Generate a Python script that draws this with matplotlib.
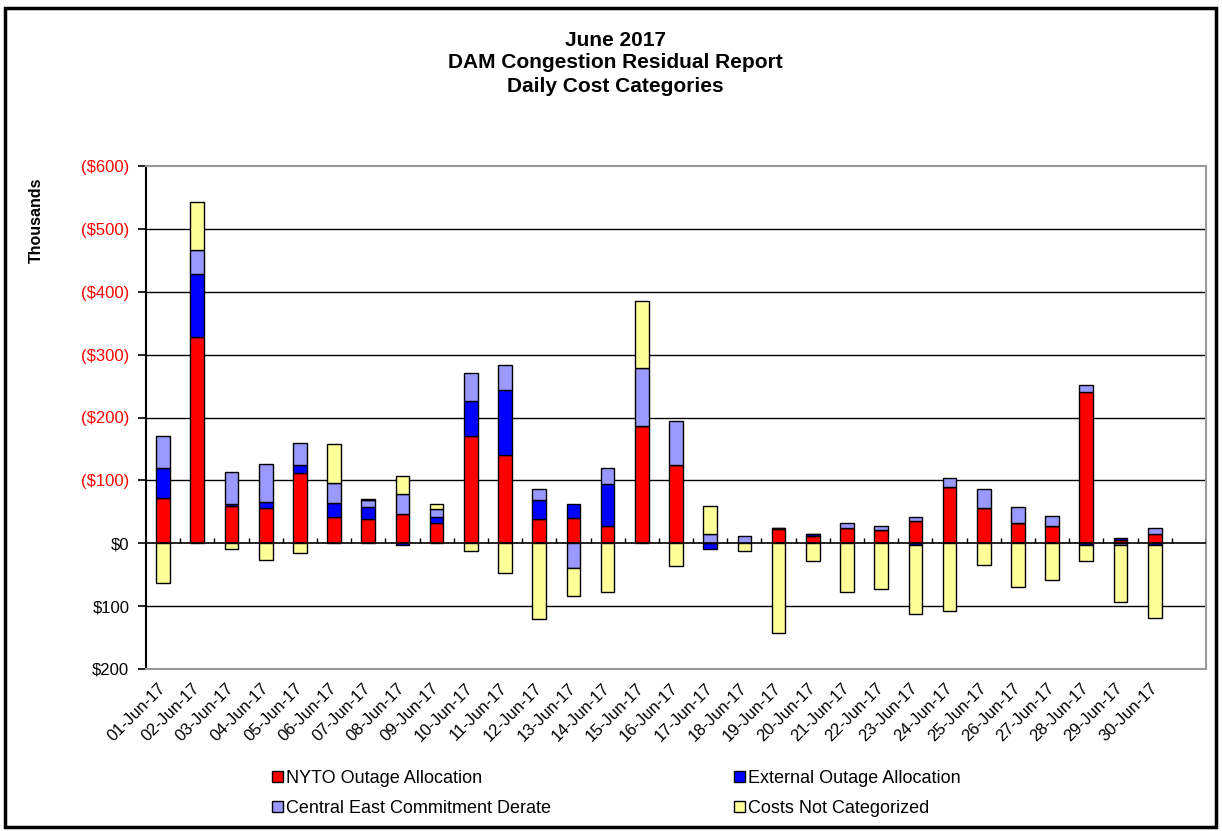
import numpy as np
import matplotlib
matplotlib.use("Agg")
import matplotlib.pyplot as plt
from matplotlib.patches import Patch, Rectangle

plt.rcParams['font.family'] = ['Liberation Sans', 'DejaVu Sans']

days = [f"{d:02d}-Jun-17" for d in range(1, 31)]

# thousands of dollars, cost shown upward
nyto = [72, 328, 60, 56, 111, 42, 38, 47, 32, 171, 140, 39, 40, 28, 187,
        124, 0, 0, 22, 12, 25, 21, 36, 89, 56, 32, 28, 241, 5, 15]
external = [47, 100, 2, 9, 13, 22, 20, -2, 10, 55, 103, 29, 22, 66, 0,
            0, -9, 0, 3, 3, 0, 0, -2, 0, 0, 0, 0, -2, 3, -2]
central = [52, 38, 51, 61, 36, 32, 10, 32, 12, 45, 40, 18, -40, 25, 92,
           70, 15, 11, 0, 0, 7, 7, 5, 14, 30, 26, 15, 11, -2, 10]
uncat = [-64, 77, -9, -26, -15, 62, 2, 28, 9, -13, -48, -121, -44, -77, 107,
         -36, 45, -13, -142, -29, -77, -72, -111, -108, -34, -70, -59, -27, -91, -117]

series = [
    ("NYTO Outage Allocation", nyto, "#FF0000"),
    ("External Outage Allocation", external, "#0000FF"),
    ("Central East Commitment Derate", central, "#9999FF"),
    ("Costs Not Categorized", uncat, "#FFFF99"),
]

W, H = 1222, 831
fig = plt.figure(figsize=(W / 100, H / 100), dpi=100)
ax = fig.add_axes([146 / W, 1 - 669 / H, 1060 / W, 503 / H])

x = np.arange(len(days))
pos = np.zeros(len(days))
neg = np.zeros(len(days))
for name, vals, col in series:
    v = np.array(vals, dtype=float)
    bottom = np.where(v >= 0, pos, neg)
    ax.bar(x, v, 0.4, bottom=bottom, color=col, edgecolor="black",
           linewidth=1, zorder=3)
    pos = pos + np.where(v >= 0, v, 0)
    neg = neg + np.where(v < 0, v, 0)

ax.set_xlim(-0.5, len(days) + 0.5)
ax.set_ylim(-200, 600)

yt = list(range(-200, 601, 100))
ax.set_yticks(yt)
labels = []
for t in yt:
    if t > 0:
        labels.append(f"(${t})")
    elif t == 0:
        labels.append("$0")
    else:
        labels.append(f"${-t}")
ax.set_yticklabels(labels, fontsize=12)
for lab, t in zip(ax.get_yticklabels(), yt):
    lab.set_color("red" if t > 0 else "black")
ax.tick_params(axis="y", length=6, width=1.2, pad=6)

for t in yt[1:-1]:
    if t != 0:
        ax.axhline(t, color="black", linewidth=1, zorder=1)
ax.axhline(0, color="black", linewidth=1.2, zorder=4)
ax.vlines(np.arange(0.5, len(days) + 1, 1), 0, 8, color="black",
          linewidth=1, zorder=4)

ax.set_xticks(x)
ax.set_xticklabels(days, rotation=45, ha="right", va="center",
                   rotation_mode="anchor", fontsize=12)
ax.tick_params(axis="x", length=0, pad=12)

for side in ["top", "right", "bottom"]:
    ax.spines[side].set_color("#999999")
    ax.spines[side].set_linewidth(1.5)
ax.spines["left"].set_color("black")
ax.spines["left"].set_linewidth(1.5)

fig.text(615 / W, 1 - 40 / H, "June 2017", ha="center", va="center",
         fontsize=15, fontweight="bold")
fig.text(615 / W, 1 - 63 / H, "DAM Congestion Residual Report", ha="center",
         va="center", fontsize=15, fontweight="bold")
fig.text(615 / W, 1 - 87 / H, "Daily Cost Categories", ha="center",
         va="center", fontsize=15, fontweight="bold")
fig.text(36 / W, 1 - 220 / H, "Thousands", rotation=90, ha="center",
         va="center", fontsize=11.5, fontweight="bold")

handles = [Patch(facecolor=c, edgecolor="black", linewidth=1) for _, _, c in series]
names = [n for n, _, _ in series]
order = [0, 2, 1, 3]
fig.legend([handles[i] for i in order], [names[i] for i in order],
           ncol=2, loc="upper left", bbox_to_anchor=(272 / W, 1 - 770 / H),
           frameon=False, fontsize=13, handlelength=0.6, handleheight=0.6,
           handletextpad=0.2, columnspacing=10.1, labelspacing=0.72,
           borderpad=0, borderaxespad=0)

fig.patches.append(Rectangle((5 / W, 4 / H), 1211 / W, 819 / H,
                             transform=fig.transFigure, fill=False,
                             edgecolor="black", linewidth=2.5))

fig.savefig("out.png", dpi=100)
